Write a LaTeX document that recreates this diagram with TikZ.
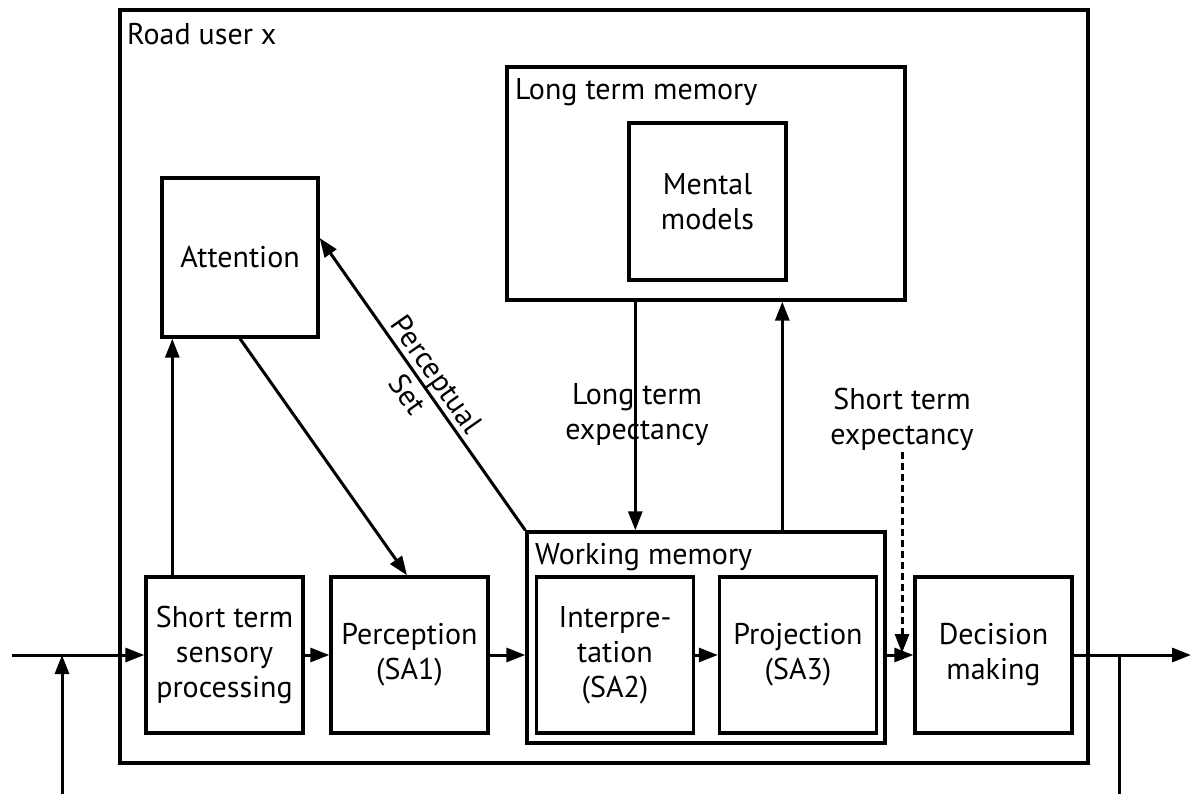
\documentclass[tikz,border=0pt]{standalone}
\usepackage{fontspec}
\setmainfont{PT Sans}
\usetikzlibrary{arrows.meta,calc}
\tikzset{
  frame/.style={draw, line width=3.4pt, inner sep=0pt},
  unitbox/.style={frame, minimum width=157pt, minimum height=156pt, align=center},
  tag/.style={inner sep=0pt},
  conn/.style={line width=3pt, -{Triangle[length=19pt,width=14pt]}},
  plain/.style={line width=3pt},
  hint/.style={line width=3pt, dash pattern=on 7pt off 4pt, -{Triangle[length=19pt,width=14pt]}},
  lbl/.style={inner sep=0pt, align=center}
}
\begin{document}
\begin{tikzpicture}[x=1pt, y=-1pt, font=\fontsize{30}{35}\selectfont]
\useasboundingbox (0,0) rectangle (1192,794);

% containers
\node[frame, minimum width=968pt, minimum height=753pt] (road) at (604,386.5) {};
\node[tag, anchor=base west] (roadlbl) at (127,45) {Road user x};

\node[frame, minimum width=398pt, minimum height=233pt] (ltm) at (706,183.5) {};
\node[tag, anchor=base west] (ltmlbl) at (515,100) {Long term memory};
\node[frame, minimum width=157pt, minimum height=157pt, align=center] (mm) at (707.5,201.5) {Mental\\models};

\node[frame, minimum width=156pt, minimum height=159pt] (att) at (240,257.5) {Attention};

\node[frame, minimum width=358pt, minimum height=211pt] (wm) at (706,637.5) {};
\node[tag, anchor=base west] (wmlbl) at (535,564) {Working memory};

% processing chain
\node[unitbox] (stsp) at (224.5,655) {Short term\\sensory\\processing};
\node[unitbox] (perc) at (409.5,655) {Perception\\(SA1)};
\node[unitbox] (interp) at (615,655) {Interpre-\\tation\\(SA2)};
\node[unitbox] (proj) at (798,655) {Projection\\(SA3)};
\node[unitbox] (dec) at (993.5,655) {Decision\\making};

% outer input and output lines
\coordinate (in) at (12,655);
\coordinate (fb) at (62,794);
\coordinate (out) at (1191,655);
\coordinate (tap) at (1119,655);
\coordinate (tapend) at (1119,794);

\draw[conn] (in) -- (stsp.west);
\draw[conn] (fb) -- (fb |- in);
\draw[conn] (dec.east) -- (out);
\draw[plain] (tap) -- (tapend);

% chain arrows
\draw[conn] (stsp.east) -- (perc.west);
\draw[conn] (perc.east) -- (perc.east -| wm.west);
\draw[conn] (interp.east) -- (proj.west);
\draw[conn] (proj.east -| wm.east) -- (dec.west);

% attention loop
\coordinate (upstart) at ($(stsp.north west)+(28,0)$);
\draw[conn] (upstart) -- (upstart |- att.south);
\draw[conn] (att.south) -- ([xshift=-2.5pt]perc.north);
\draw[conn] (wm.north west) -- node[lbl, sloped, pos=0.5] {Perceptual\\Set} ([yshift=19.5pt]att.east);

% long term memory exchange
\coordinate (ltdown) at ($(ltm.south west)+(130,0)$);
\draw[conn] (ltdown) -- (ltdown |- wm.north);
\node[lbl] (ltexp) at (637,415) {Long term\\expectancy};

\coordinate (ltup) at ($(wm.north west)+(257,0)$);
\draw[conn] (ltup) -- (ltup |- ltm.south);

% short term expectancy
\node[lbl] (stexp) at (902,419) {Short term\\expectancy};
\coordinate (ststart) at (902,452);
\coordinate (stend) at (902,653);
\draw[hint] (ststart) -- (stend);
\end{tikzpicture}
\end{document}
